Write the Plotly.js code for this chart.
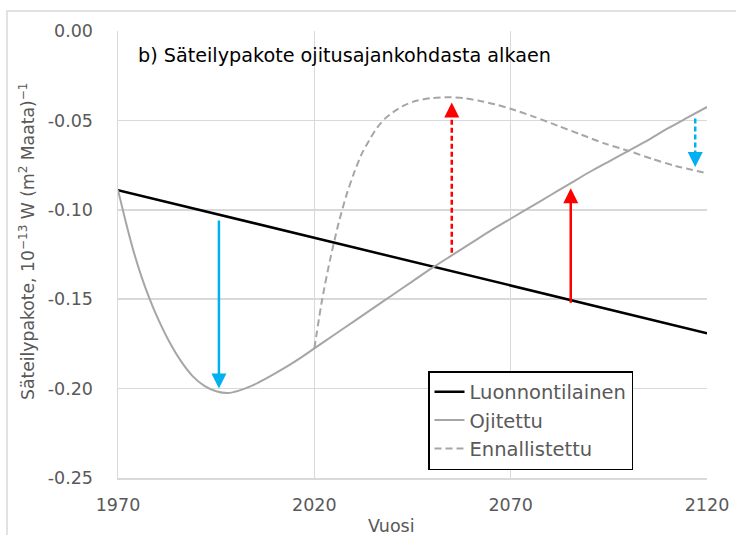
<!DOCTYPE html>
<html>
<head>
<meta charset="utf-8">
<script src="https://cdn.plot.ly/plotly-3.0.1.min.js"></script>
<style>html,body{margin:0;padding:0;background:#fff;}#chart{width:736px;height:535px;}</style>
</head>
<body>
<div id="chart"></div>
<script>
// Luonnontilainen (natural)
const natYears = [1970, 2120];
const natValues = [-0.089, -0.169];

// Ojitettu (drained)
const drainYears = [1970, 1972, 1974, 1976, 1978, 1980, 1983, 1986, 1989, 1992, 1995, 1998, 2001, 2004, 2008, 2012, 2016, 2020, 2025, 2030, 2035, 2040, 2045, 2050, 2055, 2060, 2065, 2070, 2075, 2080, 2085, 2090, 2095, 2100, 2105, 2110, 2115, 2120];
const drainValues = [-0.089, -0.107, -0.1235, -0.1375, -0.1495, -0.160, -0.1735, -0.1845, -0.193, -0.1985, -0.2015, -0.2025, -0.201, -0.1985, -0.194, -0.189, -0.1835, -0.1775, -0.170, -0.1625, -0.155, -0.1475, -0.140, -0.1325, -0.1255, -0.1185, -0.1115, -0.105, -0.0985, -0.092, -0.0855, -0.079, -0.073, -0.067, -0.061, -0.0545, -0.0485, -0.0425];

// Ennallistettu (restored)
const restYears = [2020, 2022, 2024, 2026, 2028, 2030, 2032, 2034, 2036, 2038, 2040, 2043, 2046, 2050, 2054, 2058, 2062, 2066, 2070, 2076, 2082, 2088, 2094, 2100, 2106, 2112, 2120];
const restValues = [-0.1775, -0.150, -0.128, -0.109, -0.093, -0.080, -0.069, -0.061, -0.054, -0.049, -0.0455, -0.0415, -0.039, -0.0375, -0.037, -0.0375, -0.039, -0.041, -0.0435, -0.048, -0.053, -0.058, -0.063, -0.067, -0.0715, -0.0755, -0.0795];

// Arrows
const arrowX = [1995.7, 2055, 2085.3, 2117];
const arrowFrom = [-0.106, -0.124, -0.152, -0.049];
const arrowTo = [-0.200, -0.040, -0.088, -0.076];
const arrowColor = ['#00b0f0', '#ff0000', '#ff0000', '#00b0f0'];
const arrowDash = ['solid', 'dash', 'solid', 'dash'];

const xTicks = [1970, 2020, 2070, 2120];
const yTicks = [-0.25, -0.20, -0.15, -0.10, -0.05, 0.00];

const FONT = '"DejaVu Sans", "Open Sans", sans-serif';
const GRAY = '#595959';
const FS = 17.5;

const traces = [
  {x: natYears, y: natValues, mode: 'lines', name: 'Luonnontilainen',
   line: {color: '#000000', width: 2.5}},
  {x: drainYears, y: drainValues, mode: 'lines', name: 'Ojitettu',
   line: {color: '#a6a6a6', width: 2, shape: 'spline', smoothing: 0.6}},
  {x: restYears, y: restValues, mode: 'lines', name: 'Ennallistettu',
   line: {color: '#a6a6a6', width: 2, dash: '7px,4px', shape: 'spline', smoothing: 0.6}}
];

const annotations = [];
for (let i = 0; i < arrowX.length; i++) {
  const dir = arrowTo[i] > arrowFrom[i] ? 1 : -1;
  traces.push({x: [arrowX[i], arrowX[i]], y: [arrowFrom[i], arrowTo[i] - dir * 0.004],
    mode: 'lines', showlegend: false, hoverinfo: 'skip',
    line: {color: arrowColor[i], width: 2.5, dash: arrowDash[i] === 'dash' ? '5px,3px' : 'solid'}});
  annotations.push({x: arrowX[i], y: arrowTo[i], xref: 'x', yref: 'y', text: '',
    showarrow: true, arrowhead: 2, arrowsize: 1.2, arrowwidth: 2.5, arrowcolor: arrowColor[i],
    ax: 0, ay: dir * 12, standoff: 0});
}

annotations.push({xref: 'paper', yref: 'paper', x: (136 - 118) / 589, y: (478 - 55) / 447, xanchor: 'left', yanchor: 'middle',
  text: 'b) Säteilypakote ojitusajankohdasta alkaen', showarrow: false,
  font: {family: FONT, size: 19.2, color: '#000000'}});
annotations.push({xref: 'paper', yref: 'paper', x: (391 - 118) / 589, y: -(526 - 478) / 447, xanchor: 'center', yanchor: 'middle',
  text: 'Vuosi', showarrow: false, font: {family: FONT, size: FS, color: GRAY}});
annotations.push({xref: 'paper', yref: 'paper', x: -(118 - 27) / 589, y: (478 - 242) / 447, xanchor: 'center', yanchor: 'middle',
  text: 'Säteilypakote, 10<sup>−13</sup> W (m<sup>2</sup> Maata)<sup>−1</sup>', textangle: -90, showarrow: false,
  font: {family: FONT, size: 17.2, color: GRAY}});

const layout = {
  width: 736, height: 535,
  margin: {l: 118, r: 29, t: 31, b: 57},
  paper_bgcolor: '#ffffff', plot_bgcolor: '#ffffff',
  font: {family: FONT, size: FS, color: GRAY},
  showlegend: true,
  legend: {x: (428 - 118) / 589, y: (478 - 371) / 447, xanchor: 'left', yanchor: 'top',
    bgcolor: '#ffffff', bordercolor: '#000000', borderwidth: 1.5,
    font: {family: FONT, size: 19.5, color: GRAY}, tracegroupgap: 0},
  xaxis: {range: [1970, 2120], tickvals: xTicks, ticktext: xTicks.map(String),
    showgrid: true, gridcolor: '#d9d9d9', gridwidth: 1.5, zeroline: false,
    showline: true, linecolor: '#d9d9d9', linewidth: 1.5, ticks: '',
    ticklabelstandoff: 10, tickfont: {family: FONT, size: FS, color: GRAY}, fixedrange: true},
  yaxis: {range: [-0.25, 0], tickvals: yTicks, ticktext: yTicks.map(v => v.toFixed(2)),
    showgrid: true, gridcolor: '#d9d9d9', gridwidth: 1.5, zeroline: false,
    showline: true, linecolor: '#d9d9d9', linewidth: 1.5, ticks: '',
    ticklabelstandoff: 20, tickfont: {family: FONT, size: FS, color: GRAY}, fixedrange: true},
  annotations: annotations,
  shapes: [{type: 'rect', xref: 'paper', yref: 'paper',
    x0: -(118 - 7) / 589, x1: 1.1, y0: -0.2, y1: (478 - 11) / 447,
    line: {color: '#d9d9d9', width: 1.5}, layer: 'below'}]
};

Plotly.newPlot('chart', traces, layout, {displayModeBar: false, staticPlot: true});
</script>
</body>
</html>
